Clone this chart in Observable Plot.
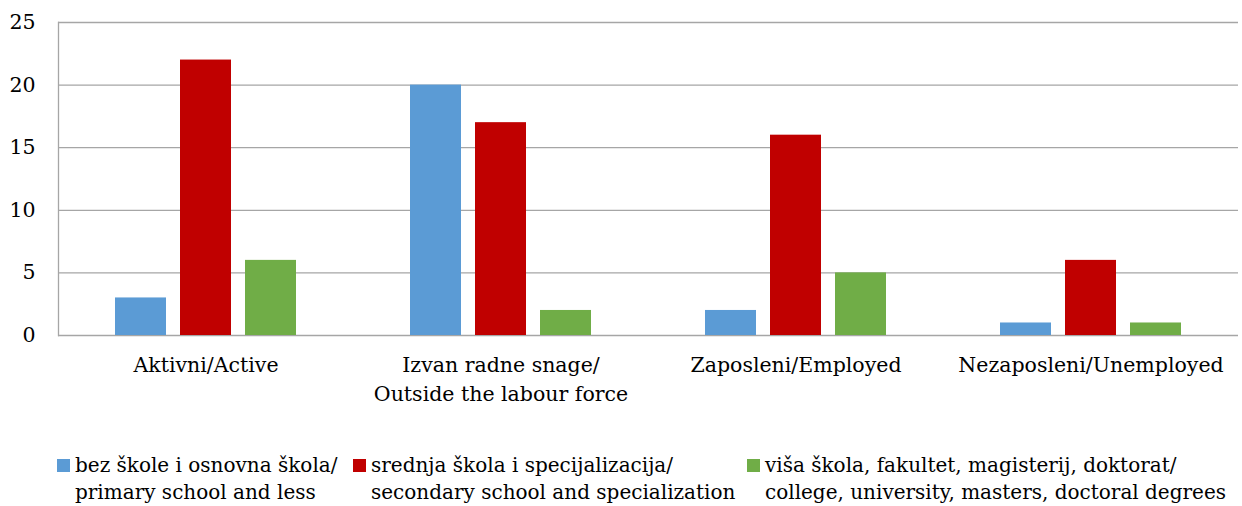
<!DOCTYPE html>
<html>
<head>
<meta charset="utf-8">
<script src="https://cdn.jsdelivr.net/npm/d3@7"></script>
<script src="https://cdn.jsdelivr.net/npm/@observablehq/plot@0.6"></script>
<style>
  body { margin: 0; background: #fff; font-family: "DejaVu Serif", serif; }
  #wrap { position: relative; width: 1242px; height: 506px; }
  .leg { position: absolute; top: 452px; font-size: 20px; line-height: 27px; color: #000; white-space: nowrap; }
  .leg .sw { position: absolute; left: 0; top: 7px; width: 13px; height: 13px; }
  .leg .tx { position: absolute; top: 0; left: 18px; }
</style>
</head>
<body>
<div id="wrap"></div>
<script>
const categories = ["Aktivni/Active", "Izvan radne snage/\nOutside the labour force", "Zaposleni/Employed", "Nezaposleni/Unemployed"];
const seriesLabels = [
  ["bez škole i osnovna škola/", "primary school and less"],
  ["srednja škola i specijalizacija/", "secondary school and specialization"],
  ["viša škola, fakultet, magisterij, doktorat/", "college, university, masters, doctoral degrees"]
];
const primary = [3, 20, 2, 1];
const secondary = [22, 17, 16, 6];
const tertiary = [6, 2, 5, 1];
const colors = ["#5b9bd5", "#c00000", "#70ad47"];
const yTicks = [0, 5, 10, 15, 20, 25];

const seriesValues = [primary, secondary, tertiary];
const data = [];
categories.forEach((c, i) => {
  seriesValues.forEach((vals, s) => data.push({cat: c, series: s, value: vals[i]}));
});

const chart = Plot.plot({
  width: 1242,
  height: 420,
  marginLeft: 58,
  marginRight: 4,
  marginTop: 22,
  marginBottom: 85,
  style: {fontFamily: "DejaVu Serif", fontSize: "20.5px", color: "#000", background: "#fff"},
  fx: {domain: categories, paddingInner: 0, paddingOuter: 0, label: null},
  x: {domain: [0, 1, 2], paddingInner: 0.21, paddingOuter: 0.84, axis: null},
  y: {domain: [0, 25], ticks: yTicks, label: null},
  color: {domain: [0, 1, 2], range: colors},
  marks: [
    Plot.gridY(yTicks, {stroke: "#a6a6a6", strokeOpacity: 1, strokeWidth: 1.3}),
    Plot.frame({anchor: "left", stroke: "#a6a6a6", strokeWidth: 1.3, facetAnchor: "left"}),
    Plot.barY(data, {fx: "cat", x: "series", y: "value", fill: "series"}),
    Plot.axisY(yTicks, {tickSize: 0, tickPadding: 23, fontSize: 20.5, label: null}),
    Plot.axisFx({anchor: "bottom", tickSize: 0, tickPadding: 17, fontSize: 20.5, lineHeight: 1.37, label: null})
  ]
});

const wrap = document.getElementById("wrap");
wrap.appendChild(chart);

const legLeft = [57, 353, 747];
seriesLabels.forEach((lines, i) => {
  const d = document.createElement("div");
  d.className = "leg";
  d.style.left = legLeft[i] + "px";
  const sw = document.createElement("div");
  sw.className = "sw";
  sw.style.background = colors[i];
  d.appendChild(sw);
  const t1 = document.createElement("div");
  t1.className = "tx";
  t1.textContent = lines[0];
  d.appendChild(t1);
  const t2 = document.createElement("div");
  t2.className = "tx";
  t2.style.top = "27px";
  t2.textContent = lines[1];
  d.appendChild(t2);
  wrap.appendChild(d);
});
</script>
</body>
</html>
